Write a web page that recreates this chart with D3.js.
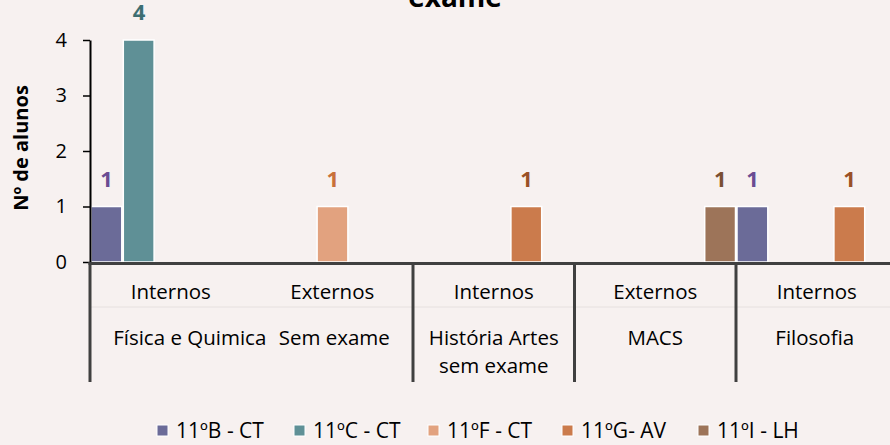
<!DOCTYPE html>
<html>
<head>
<meta charset="utf-8">
<script src="https://cdn.jsdelivr.net/npm/d3@7"></script>
<style>
    body { margin: 0; background: #f7f1f0; overflow: hidden; }
    svg { display: block; font-family: 'Open Sans', sans-serif; }
</style>
</head>
<body>
<svg id="chart" width="890" height="445"></svg>
<script>
// chart data
var subjects      = ['Física e Quimica', 'Sem exame', 'História Artes sem exame', 'MACS', 'Filosofia'];
var student_types = ['Internos', 'Externos', 'Internos', 'Externos', 'Internos'];
var class_names   = ['11ºB - CT', '11ºC - CT', '11ºF - CT', '11ºG- AV', '11ºI - LH'];
var values_11b    = [1, null, null, null, 1];
var values_11c    = [4, null, null, null, null];
var values_11f    = [null, 1, null, null, null];
var values_11g    = [null, null, 1, null, 1];
var values_11i    = [null, null, null, 1, null];
var y_ticks       = [0, 1, 2, 3, 4];
var title_text    = 'exame';
var y_title       = 'Nº de alunos';

// colors
var bar_colors   = ['#6b6b98', '#5f9096', '#e2a27f', '#cb7b4c', '#9d7459'];
var label_colors = ['#6a4c93', '#3d6e72', '#c8703a', '#9a5026', '#7a4f33'];

(function() {
    // series list
    var series = [values_11b, values_11c, values_11f, values_11g, values_11i];

    // canvas
    var svg = d3.select('#chart');

    // layout
    var plot_left = 90, plot_right = 897.5, plot_top = 40, plot_bottom = 262;

    // scales
    var x0 = d3.scaleBand().domain(d3.range(subjects.length)).range([plot_left, plot_right]).padding(0);
    var x1 = d3.scaleBand().domain(d3.range(class_names.length)).range([0, x0.bandwidth()]).padding(0);
    var y  = d3.scaleLinear().domain([0, 4]).range([plot_bottom, plot_top]);

    // title (cut at the top edge, as in the source)
    svg.append('text')
        .attr('x', 455)
        .attr('y', 7)
        .attr('text-anchor', 'middle')
        .style('font-size', '28px')
        .style('font-weight', 'bold')
        .text(title_text);

    // y axis title
    svg.append('text')
        .attr('transform', 'translate(28,148) rotate(-90)')
        .attr('text-anchor', 'middle')
        .style('font-size', '20px')
        .style('font-weight', 'bold')
        .text(y_title);

    // faint row divider
    svg.append('line')
        .attr('x1', plot_left).attr('x2', 890)
        .attr('y1', 307).attr('y2', 307)
        .attr('stroke', '#e6e0df')
        .attr('stroke-width', 1);

    // bars
    series.forEach(function(values, s) {
        var group = svg.append('g');
        values.forEach(function(v, i) {
            if (v === null) return;
            var bx = x0(i) + x1(s);
            group.append('rect')
                .attr('x', bx + 1)
                .attr('y', y(v))
                .attr('width', x1.bandwidth() - 1.5)
                .attr('height', y(0) - y(v))
                .attr('fill', bar_colors[s])
                .attr('stroke', '#ffffff')
                .attr('stroke-width', 1.5);
            group.append('text')
                .attr('x', bx + x1.bandwidth() / 2 + 0.5)
                .attr('y', y(v) - 20)
                .attr('text-anchor', 'middle')
                .attr('fill', label_colors[s])
                .style('font-size', '22px')
                .style('font-weight', 'bold')
                .text(v);
        });
    });

    // y axis
    var y_axis = svg.append('g')
        .attr('transform', 'translate(' + plot_left + ',0)')
        .call(d3.axisLeft(y).tickValues(y_ticks).tickFormat(d3.format('d'))
            .tickSize(7).tickPadding(16).tickSizeOuter(0));
    y_axis.select('.domain').attr('stroke', '#000').attr('stroke-width', 2);
    y_axis.selectAll('.tick line').attr('stroke', '#000').attr('stroke-width', 1.5);
    y_axis.selectAll('.tick text')
        .attr('fill', '#000')
        .style('font-family', "'Open Sans', sans-serif")
        .style('font-size', '20px');

    // x axis line
    svg.append('line')
        .attr('x1', plot_left - 1.5).attr('x2', 890)
        .attr('y1', plot_bottom + 1.5).attr('y2', plot_bottom + 1.5)
        .attr('stroke', '#404040')
        .attr('stroke-width', 3);

    // category separators
    [0, 2, 3, 4].forEach(function(i) {
        svg.append('line')
            .attr('x1', x0(i)).attr('x2', x0(i))
            .attr('y1', plot_bottom).attr('y2', 382)
            .attr('stroke', '#404040')
            .attr('stroke-width', 3);
    });

    // inner category labels
    student_types.forEach(function(t, i) {
        svg.append('text')
            .attr('x', x0(i) + x0.bandwidth() / 2)
            .attr('y', 299)
            .attr('text-anchor', 'middle')
            .style('font-size', '20.5px')
            .text(t);
    });

    // outer category labels, wrapped to band width
    var label_shift = [19, 2, 0, 0, -2];
    subjects.forEach(function(name, i) {
        var cx = x0(i) + x0.bandwidth() / 2 + label_shift[i];
        var text = svg.append('text')
            .attr('x', cx)
            .attr('y', 345)
            .attr('text-anchor', 'middle')
            .style('font-size', '20.5px');
        var words = name.split(' ');
        var line = [];
        var tspan = text.append('tspan').attr('x', cx);
        words.forEach(function(w) {
            line.push(w);
            tspan.text(line.join(' '));
            if (tspan.node().getComputedTextLength() > x0.bandwidth() && line.length > 1) {
                line.pop();
                tspan.text(line.join(' '));
                line = [w];
                tspan = text.append('tspan').attr('x', cx).attr('dy', 28).text(w);
            }
        });
    });

    // legend
    var legend_x = [156, 293, 427, 561, 697];
    class_names.forEach(function(name, s) {
        var item = svg.append('g').attr('transform', 'translate(' + legend_x[s] + ',0)');
        item.append('rect')
            .attr('x', 1).attr('y', 425)
            .attr('width', 11).attr('height', 11)
            .attr('fill', bar_colors[s])
            .attr('stroke', '#ffffff')
            .attr('stroke-width', 1);
        item.append('text')
            .attr('x', 20)
            .attr('y', 438)
            .style('font-size', '21px')
            .text(name);
    });
})();
</script>
</body>
</html>
